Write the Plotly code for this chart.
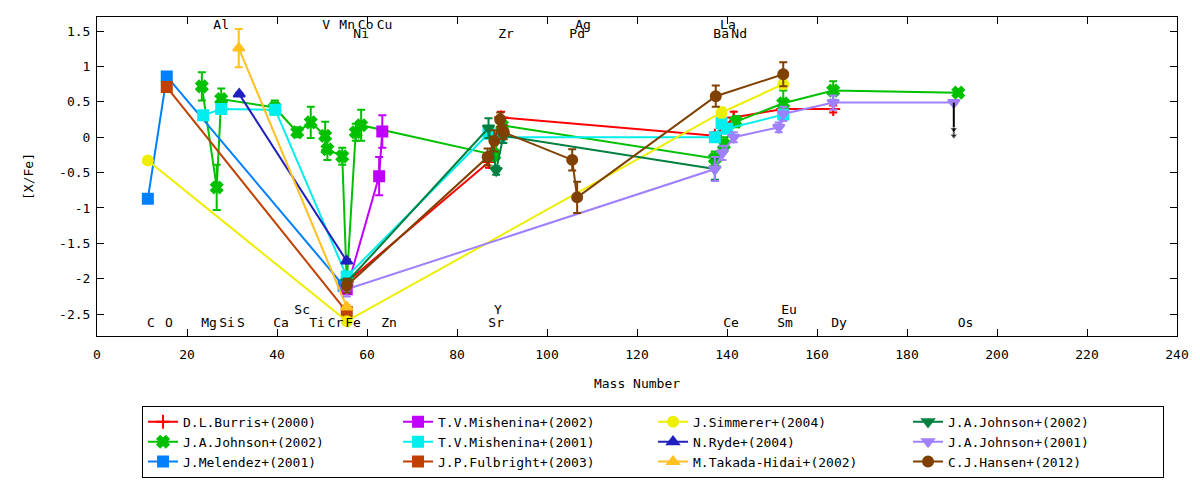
import plotly.graph_objects as go

FONT = "DejaVu Sans Mono"

# ---------------------------------------------------------------------------
# element labels drawn inside the frame (top and bottom rows)
elem_names = ["Al", "V", "Mn", "Co", "Cu", "Ag", "La",
              "Ni", "Zr", "Pd", "Ba", "Nd",
              "C", "O", "Mg", "Si", "S", "Ca", "Ti", "Cr", "Fe", "Zn",
              "Sr", "Ce", "Sm", "Dy", "Os",
              "Sc", "Y", "Eu"]
elem_x = [27.6, 50.9, 55.6, 59.7, 63.9, 108.0, 140.2,
          58.7, 90.9, 106.7, 138.7, 142.7,
          12.0, 16.0, 24.9, 28.9, 32.0, 40.9, 48.9, 53.0, 56.9, 64.9,
          88.7, 140.9, 152.9, 164.9, 193.0,
          45.6, 89.1, 153.8]
elem_y = [1.58] * 7 + [1.45] * 5 + [-2.63] * 15 + [-2.45] * 3

# ---------------------------------------------------------------------------
# abundances [X/Fe] vs mass number, one set per paper
burris_x = [55.5, 87.1, 89.8, 137.3, 141.5, 152.5, 163.6]
burris_y = [-2.05, -0.35, 0.28, 0.02, 0.28, 0.40, 0.40]
burris_e = [0.05, 0.08, 0.08, 0.05, 0.08, 0.05, 0.05]

johnson02_x = [23.3, 26.6, 27.6, 39.5, 44.5, 47.5, 50.7, 51.2, 54.5, 55.5,
               57.5, 58.7, 88.3, 90.0, 137.3, 139.3, 142.0, 152.5, 163.6, 191.4]
johnson02_y = [0.72, -0.71, 0.54, 0.42, 0.07, 0.21, 0.02, -0.17, -0.27, -2.05,
               0.07, 0.17, -0.25, 0.17, -0.30, -0.10, 0.22, 0.48, 0.66, 0.63]
johnson02_e = [0.20, 0.32, 0.15, 0.10, 0.07, 0.22, 0.20, 0.15, 0.12, 0.10,
               0.12, 0.22, 0.08, 0.08, 0.10, 0.10, 0.08, 0.18, 0.13, 0.03]

melendez_x = [11.3, 15.5, 54.8]
melendez_y = [-0.87, 0.86, -2.10]
melendez_e = [0.03, 0.03, 0.03]

mishenina02_x = [55.5, 62.7, 63.4]
mishenina02_y = [-2.15, -0.55, 0.08]
mishenina02_e = [0.05, 0.27, 0.23]

mishenina01_x = [23.6, 27.6, 39.6, 55.5, 87.0, 89.5, 137.3, 138.8, 140.0, 152.5]
mishenina01_y = [0.31, 0.40, 0.39, -1.97, 0.05, 0.00, 0.00, 0.20, 0.12, 0.32]
mishenina01_e = [0.03, 0.03, 0.03, 0.05, 0.05, 0.05, 0.05, 0.08, 0.05, 0.05]

fulbright_x = [15.5, 55.5]
fulbright_y = [0.71, -2.47]
fulbright_e = [0.03, 0.03]

simmerer_x = [11.3, 55.5, 138.8, 152.5]
simmerer_y = [-0.33, -2.60, 0.35, 0.75]
simmerer_e = [0.02, 0.03, 0.07, 0.05]

ryde_x = [31.6, 55.5]
ryde_y = [0.61, -1.75]
ryde_e = [0.02, 0.03]

takada_x = [31.5, 55.5]
takada_y = [1.26, -2.40]
takada_e = [0.27, 0.03]

johnson02b_x = [55.5, 87.0, 88.7, 90.3, 137.3]
johnson02b_y = [-2.05, 0.13, -0.47, 0.02, -0.45]
johnson02b_e = [0.05, 0.14, 0.06, 0.10, 0.15]

johnson01_x = [55.5, 137.3, 139.0, 141.5, 151.5, 152.5, 163.6, 190.4]
johnson01_y = [-2.15, -0.45, -0.22, 0.00, 0.14, 0.33, 0.49, 0.49]
johnson01_e = [0.10, 0.17, 0.10, 0.07, 0.07, 0.10, 0.10, 0.02]

hansen_x = [55.5, 86.8, 88.3, 89.6, 90.4, 105.6, 106.7, 137.5, 152.5]
hansen_y = [-2.10, -0.28, -0.05, 0.25, 0.07, -0.32, -0.85, 0.58, 0.89]
hansen_e = [0.10, 0.12, 0.15, 0.10, 0.10, 0.15, 0.22, 0.15, 0.17]

# upper limit (Os, Johnson 2001)
ul_x = [190.4]
ul_y = [0.49]

y_ticks = [-2.5, -2, -1.5, -1, -0.5, 0, 0.5, 1, 1.5]
y_labels = ["-2.5", "-2", "-1.5", "-1", "-0.5", "0", "0.5", "1", "1.5"]
x_ticks = list(range(0, 241, 20))

series = [
    ("D.L.Burris+(2000)", burris_x, burris_y, burris_e, "#ff0000", "cross-thin"),
    ("J.A.Johnson+(2002)", johnson02_x, johnson02_y, johnson02_e, "#00c000", "x"),
    ("J.Melendez+(2001)", melendez_x, melendez_y, melendez_e, "#0080ff", "square"),
    ("T.V.Mishenina+(2002)", mishenina02_x, mishenina02_y, mishenina02_e, "#c000ff", "square"),
    ("T.V.Mishenina+(2001)", mishenina01_x, mishenina01_y, mishenina01_e, "#00eeee", "square"),
    ("J.P.Fulbright+(2003)", fulbright_x, fulbright_y, fulbright_e, "#c04000", "square"),
    ("J.Simmerer+(2004)", simmerer_x, simmerer_y, simmerer_e, "#eeee00", "circle"),
    ("N.Ryde+(2004)", ryde_x, ryde_y, ryde_e, "#2020c0", "triangle-up"),
    ("M.Takada-Hidai+(2002)", takada_x, takada_y, takada_e, "#ffc020", "triangle-up"),
    ("J.A.Johnson+(2002)", johnson02b_x, johnson02b_y, johnson02b_e, "#008040", "triangle-down"),
    ("J.A.Johnson+(2001)", johnson01_x, johnson01_y, johnson01_e, "#a080ff", "triangle-down"),
    ("C.J.Hansen+(2012)", hansen_x, hansen_y, hansen_e, "#804000", "circle"),
]
# legend is filled column by column (3 rows, 4 columns)
ranks = [1, 5, 9, 2, 6, 10, 3, 7, 11, 4, 8, 12]

fig = go.Figure()
for (name, xs, ys, es, col, sym), rk in zip(series, ranks):
    fig.add_trace(go.Scatter(
        x=xs, y=ys, name=name, mode="lines+markers", legendrank=rk,
        line=dict(color=col, width=2),
        marker=dict(symbol=sym, size=10, color=col, line=dict(color=col, width=2)),
        error_y=dict(type="data", array=es, color=col, thickness=2, width=4),
    ))

# upper limit arrow
for ux, uy in zip(ul_x, ul_y):
    fig.add_trace(go.Scatter(
        x=[ux, ux, ux], y=[uy, uy - 0.38, uy - 0.47], mode="lines+markers",
        line=dict(color="black", width=2), showlegend=False, hoverinfo="skip",
        marker=dict(symbol="triangle-down", size=[0, 7, 7], color="black"),
    ))

fig.add_trace(go.Scatter(
    x=elem_x, y=elem_y, text=elem_names, mode="text", showlegend=False,
    textfont=dict(family=FONT, size=13, color="black"), hoverinfo="skip",
))

axis_common = dict(showgrid=False, zeroline=False, showline=True, linecolor="black",
                   linewidth=1, mirror="ticks", ticks="inside", ticklen=7,
                   tickcolor="black", automargin=False,
                   tickfont=dict(family=FONT, size=13, color="black"))
fig.update_xaxes(range=[0, 240], tickvals=x_ticks, ticklabelstandoff=6, title=dict(
    text="Mass Number", font=dict(family=FONT, size=13, color="black"), standoff=18),
    **axis_common)
fig.update_yaxes(range=[-2.81, 1.70], tickvals=y_ticks, ticktext=y_labels,
                 ticklabelstandoff=3, title=dict(
    text="[X/Fe]", font=dict(family=FONT, size=13, color="black"), standoff=22),
    **axis_common)

# page body adds an 8px margin around the figure
fig.update_layout(
    width=1184, height=472,
    margin=dict(l=89, r=15, t=9, b=144, autoexpand=False),
    paper_bgcolor="white", plot_bgcolor="white",
    font=dict(family=FONT, size=13, color="black"),
    legend=dict(orientation="h", x=0.0417, xanchor="left", y=-0.219, yanchor="top",
                bordercolor="black", borderwidth=1, entrywidth=210,
                entrywidthmode="pixels", font=dict(family=FONT, size=13),
                tracegroupgap=0),
)

fig.write_html("out.html")
